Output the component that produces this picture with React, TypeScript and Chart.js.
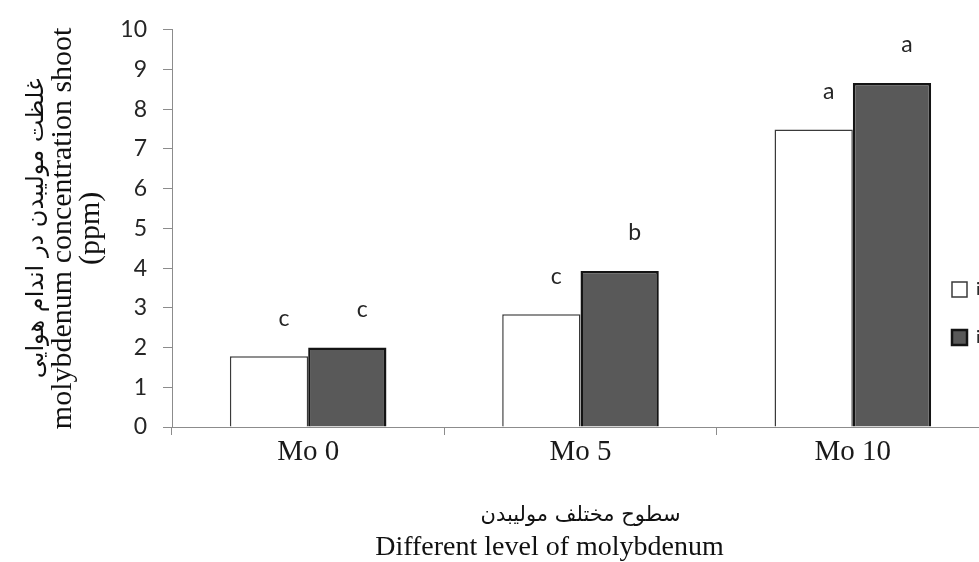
import React, { useEffect, useRef } from 'react';
import { Chart, registerables } from 'chart.js';

Chart.register(...registerables);

const categories = ['Mo 0', 'Mo 5', 'Mo 10'];
const seriesNames = ['inoculated', 'inoculated + Mo'];
const whiteValues = [1.78, 2.84, 7.49];
const darkValues = [2.0, 3.93, 8.66];
const whiteLetters = ['c', 'c', 'a'];
const darkLetters = ['c', 'b', 'a'];
const yTitle = ['molybdenum concentration shoot', '(ppm)'];
const yTitleFa = 'غلظت مولیبدن در اندام هوایی';
const xTitle = 'Different level of molybdenum';
const xTitleFa = 'سطوح مختلف مولیبدن';

const AXIS = '#8c8c8c';
const SANS = 'Lato, "Open Sans", sans-serif';
const SERIF = '"Liberation Serif", "Times New Roman", serif';
const ARABIC = '"DejaVu Sans", sans-serif';

export default function App() {
  const ref = useRef<HTMLCanvasElement>(null);

  useEffect(() => {
    document.body.style.margin = '0';
    document.body.style.overflow = 'hidden';

    const letterPlugin = {
      id: 'letters',
      afterDatasetsDraw(chart: any) {
        const ctx = chart.ctx;
        const sets = [whiteLetters, darkLetters];
        ctx.save();
        ctx.font = `23px ${SANS}`;
        ctx.fillStyle = '#262626';
        ctx.textAlign = 'center';
        ctx.textBaseline = 'middle';
        sets.forEach((letters, di) => {
          const meta = chart.getDatasetMeta(di);
          meta.data.forEach((el: any, i: number) => {
            ctx.fillText(letters[i], el.x + 15, el.y - 38);
          });
        });
        ctx.restore();
      },
    };

    const boxPlacer = {
      id: 'boxPlacer',
      afterLayout(chart: any) {
        const lg = chart.legend;
        if (lg) {
          lg.left = 922;
          lg.top = 250.5;
          lg.right = lg.left + lg.width;
          lg.bottom = lg.top + 200;
        }
        const tb = chart.titleBlock;
        if (tb) {
          tb.left -= 31;
          tb.right -= 31;
        }
      },
    };

    const chart = new Chart(ref.current as HTMLCanvasElement, {
      type: 'bar',
      data: {
        labels: categories,
        datasets: [
          {
            label: seriesNames[0],
            data: whiteValues,
            backgroundColor: '#ffffff',
            borderColor: '#3a3a3a',
            borderWidth: 1.5,
            borderSkipped: 'bottom',
          },
          {
            label: seriesNames[1],
            data: darkValues,
            backgroundColor: '#595959',
            borderColor: '#141414',
            borderWidth: 2.5,
            borderSkipped: 'bottom',
          },
        ],
      },
      options: {
        responsive: false,
        animation: false,
        devicePixelRatio: 1,
        layout: { padding: { left: 0, right: 11, top: 25, bottom: 0 } },
        datasets: { bar: { categoryPercentage: 0.575, barPercentage: 1 } },
        scales: {
          x: {
            grid: { display: true, drawOnChartArea: false, drawTicks: true, tickLength: 8, color: AXIS, offset: true },
            border: { display: true, color: AXIS, width: 1 },
            ticks: {
              font: { family: SERIF, size: 29, lineHeight: 1 },
              color: '#1a1a1a',
              padding: 3,
              maxRotation: 0,
              autoSkip: false,
            },
            title: {
              display: true,
              text: xTitleFa,
              font: { family: ARABIC, size: 21, lineHeight: 24 / 21 },
              color: '#111111',
              padding: { top: 0, bottom: 6 },
            },
            afterFit: (s: any) => {
              s.height = 107;
            },
          },
          y: {
            min: 0,
            max: 10,
            ticks: { stepSize: 1, font: { family: SANS, size: 23 }, color: '#262626', padding: 16 },
            grid: { display: true, drawOnChartArea: false, drawTicks: true, tickLength: 9, color: AXIS },
            border: { display: true, color: AXIS, width: 1 },
            title: {
              display: true,
              text: yTitle,
              font: { family: SERIF, size: 30, lineHeight: 28 / 30 },
              color: '#111111',
              padding: { top: 0, bottom: 0 },
            },
            afterFit: (s: any) => {
              s.width = 123;
            },
          },
        },
        plugins: {
          legend: {
            position: 'chartArea',
            align: 'start',
            labels: {
              boxWidth: 15,
              boxHeight: 15,
              padding: 30,
              font: { family: SANS, size: 18 },
              color: '#262626',
            },
          },
          tooltip: { enabled: false },
          title: {
            display: true,
            position: 'bottom',
            fullSize: false,
            text: xTitle,
            font: { family: SERIF, size: 28, lineHeight: 1, weight: 'normal' },
            color: '#111111',
            padding: { top: 0, bottom: 0 },
          },
          subtitle: {
            display: true,
            position: 'left',
            fullSize: false,
            weight: 2500,
            text: yTitleFa,
            font: { family: ARABIC, size: 24, lineHeight: 1 },
            color: '#111111',
            padding: { top: 25, bottom: 0 },
          },
        },
      } as any,
      plugins: [letterPlugin, boxPlacer],
    });

    return () => chart.destroy();
  }, []);

  return (
    <div style={{ width: 979, height: 562, overflow: 'hidden' }}>
      <canvas ref={ref} width={1000} height={562} style={{ display: 'block' }} />
    </div>
  );
}
